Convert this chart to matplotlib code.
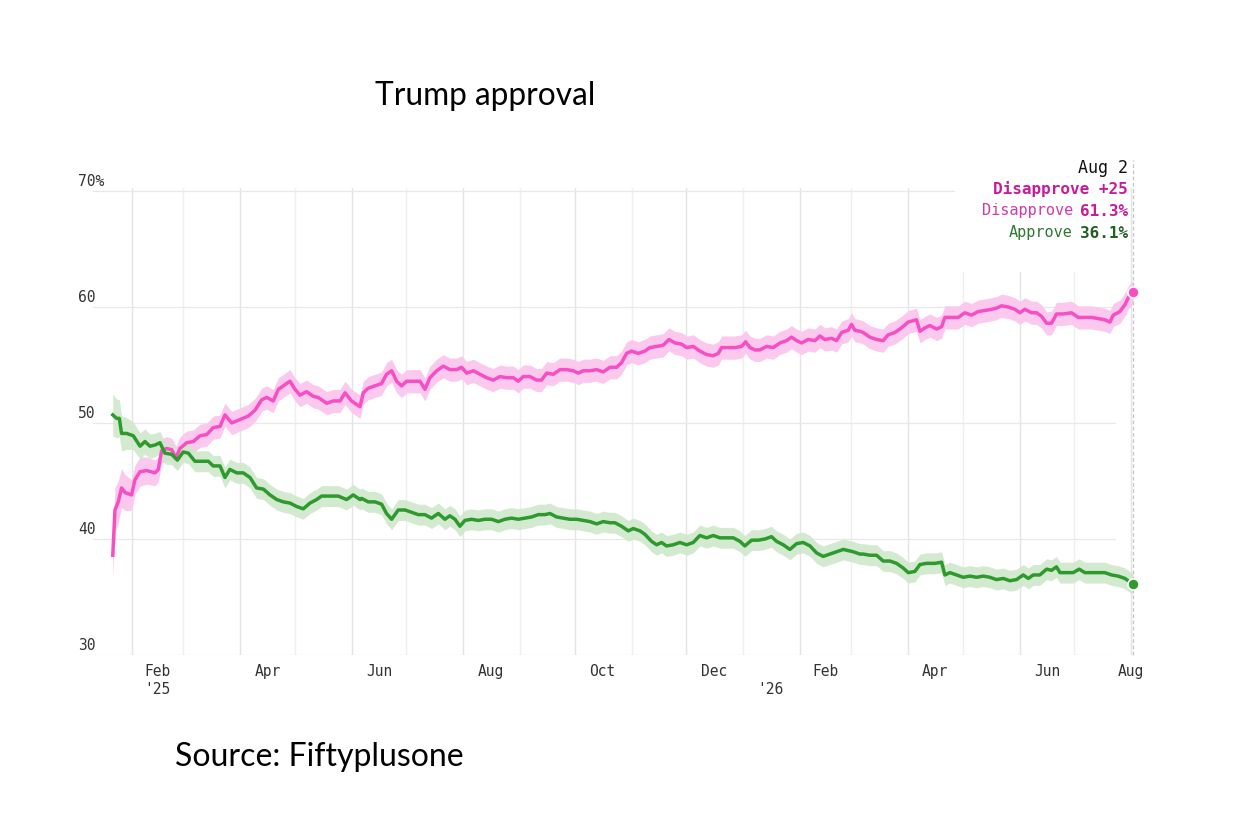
import numpy as np
import matplotlib
matplotlib.use("Agg")
import matplotlib.pyplot as plt
import matplotlib.dates as mdates
from matplotlib.patches import Rectangle

# ---------------- data (days counted from 2025-02-01) ----------------
BASE_DATE = "2025-02-01"

disapprove_days = [-10.5, -9.3, -7.5, -5.7, -3.8, -0.2, 1.6, 4.4, 8.0, 12.6, 14.4, 16.2, 18.9, 21.7, 24.0,
                   26.2, 29.9, 33.5, 37.2, 40.8, 44.4, 48.1, 50.8, 54.5, 59.0, 63.6, 67.2, 70.9, 73.6, 77.2,
                   80.0, 83.6, 86.3, 89.1, 91.8, 95.4, 99.1, 101.8, 106.4, 110.0, 113.7, 116.4, 120.0, 124.6,
                   126.4, 129.1, 132.8, 136.4, 139.1, 141.9, 144.6, 147.3, 150.1, 153.7, 157.4, 160.1, 162.8,
                   166.5, 170.1, 173.7, 177.4, 180.1, 182.9, 186.5, 190.1, 193.8, 197.4, 201.1, 204.7, 208.4,
                   211.1, 213.8, 217.5, 221.1, 223.8, 226.6, 230.2, 233.9, 237.5, 241.1, 243.9, 246.6, 250.2,
                   253.9, 257.5, 261.2, 264.8, 267.5, 270.3, 273.0, 276.6, 280.3, 283.0, 286.7, 290.3, 293.4,
                   296.7, 300.3, 303.1, 306.7, 310.3, 314.0, 317.6, 320.4, 322.2, 325.8, 329.5, 333.1, 335.3,
                   337.7, 340.4, 343.1, 346.8, 350.4, 354.1, 357.7, 360.4, 363.2, 365.9, 369.5, 373.2, 375.9,
                   378.6, 382.3, 385.0, 387.8, 391.4, 393.2, 395.0, 397.8, 399.6, 403.2, 406.9, 410.5, 413.2,
                   416.9, 420.5, 424.2, 428.7, 430.6, 433.3, 436.0, 439.7, 442.4, 444.2, 447.9, 451.5, 455.1,
                   458.8, 462.4, 466.1, 469.7, 472.4, 475.2, 478.8, 482.5, 485.2, 487.9, 491.6, 494.3, 497.0,
                   499.8, 502.5, 505.2, 508.9, 513.4, 517.1, 520.7, 524.4, 528.0, 531.6, 534.4, 536.2, 539.8,
                   542.6, 544.4, 547.0]
disapprove = [38.6, 42.5, 43.2, 44.4, 44.0, 43.8, 45.1, 45.8, 45.9, 45.7, 46.0, 47.6, 47.8, 47.7, 47.0,
              47.8, 48.3, 48.4, 48.9, 49.0, 49.6, 49.7, 50.7, 50.0, 50.3, 50.6, 51.1, 52.0, 52.2, 51.9,
              52.9, 53.3, 53.6, 52.9, 52.4, 52.7, 52.3, 52.2, 51.7, 51.9, 51.9, 52.6, 51.9, 51.4,
              52.6, 53.0, 53.2, 53.4, 54.2, 54.5, 53.6, 53.2, 53.6, 53.6, 53.6, 52.9, 53.9,
              54.5, 54.9, 54.6, 54.6, 54.8, 54.3, 54.5, 54.2, 53.9, 53.7, 54.0, 53.9, 53.9,
              53.6, 54.0, 54.0, 53.7, 53.7, 54.3, 54.2, 54.6, 54.6, 54.5, 54.3, 54.5, 54.5,
              54.6, 54.4, 54.8, 54.8, 55.2, 56.0, 56.2, 56.0, 56.2, 56.5, 56.6, 56.7, 57.2,
              56.9, 56.8, 56.5, 56.6, 56.2, 55.9, 55.8, 56.0, 56.5, 56.5, 56.5, 56.6, 57.0,
              56.5, 56.3, 56.3, 56.6, 56.5, 56.9, 57.1, 57.4, 57.1, 56.9, 57.2, 57.1, 57.5,
              57.2, 57.3, 57.1, 57.8, 58.0, 58.5, 58.0, 57.9, 57.8, 57.4, 57.2, 57.1, 57.6,
              57.8, 58.2, 58.7, 58.9, 57.9, 58.2, 58.4, 58.1, 58.3, 59.1, 59.1, 59.1, 59.5,
              59.3, 59.6, 59.7, 59.8, 59.9, 60.1, 60.0, 59.8, 59.5, 59.8, 59.5, 59.5, 59.2,
              58.6, 58.6, 59.4, 59.4, 59.5, 59.1, 59.1, 59.1, 59.0, 58.9, 58.7, 59.3, 59.6,
              60.2, 60.8, 61.3]

approve_days = [-10.5, -8.4, -6.9, -5.7, -2.9, 0.7, 4.4, 7.1, 9.8, 12.6, 15.3, 18.0, 21.7, 24.8, 28.0,
                30.8, 34.4, 38.1, 41.7, 44.4, 48.1, 50.8, 53.5, 57.2, 60.8, 64.5, 68.1, 71.8, 75.4, 79.1,
                82.7, 86.3, 90.0, 93.6, 97.3, 100.9, 103.6, 108.2, 112.7, 117.3, 120.9, 124.6,
                125.5, 129.1, 132.8, 136.4, 139.1, 141.9, 145.5, 149.2, 152.8, 156.4, 160.1, 163.7, 167.4,
                171.0, 173.7, 176.5, 179.2, 181.9, 185.6, 189.2, 192.9, 196.5, 200.2, 203.8, 207.4, 211.1,
                214.7, 218.4, 222.0, 225.7, 228.4, 232.0, 235.7, 239.3, 243.0, 246.6, 250.3, 253.9, 257.5,
                261.2, 263.9, 267.5, 271.2, 273.9, 277.6, 280.3, 283.9, 286.7, 289.4, 292.1, 295.8, 299.4,
                303.1, 306.7, 310.3, 314.0, 317.6, 321.3, 324.9, 328.6, 332.2, 334.9, 338.6, 342.2, 345.9,
                349.5, 352.2, 355.9, 359.5, 363.2, 366.8, 370.5, 374.1, 377.7, 381.4, 385.0, 388.7, 391.4,
                394.1, 397.8, 399.6, 403.2, 406.9, 410.5, 414.2, 417.8, 421.4, 424.2, 427.8, 430.6, 434.2,
                438.8, 442.4, 444.2, 447.0, 450.6, 454.2, 457.9, 461.5, 465.2, 468.8, 472.4, 476.1, 479.7,
                483.4, 487.0, 489.8, 492.5, 496.1, 499.8, 502.5, 505.2, 507.1, 510.7, 514.3, 517.6, 520.7,
                524.4, 528.0, 531.6, 535.3, 538.9, 542.6, 547.0]
approve = [50.7, 50.4, 50.4, 49.1, 49.1, 48.9, 48.0, 48.4, 48.0, 48.1, 48.3, 47.4, 47.3, 46.8, 47.5,
           47.4, 46.7, 46.7, 46.7, 46.3, 46.3, 45.3, 46.0, 45.7, 45.7, 45.3, 44.4, 44.3, 43.8, 43.4,
           43.2, 43.1, 42.8, 42.6, 43.1, 43.4, 43.7, 43.7, 43.7, 43.4, 43.8, 43.4,
           43.5, 43.2, 43.2, 43.0, 42.2, 41.7, 42.5, 42.5, 42.3, 42.1, 42.1, 41.8, 42.2,
           41.7, 42.0, 41.7, 41.1, 41.6, 41.7, 41.6, 41.7, 41.7, 41.5, 41.7, 41.8, 41.7,
           41.8, 41.9, 42.1, 42.1, 42.2, 41.9, 41.8, 41.7, 41.7, 41.6, 41.5, 41.3, 41.5,
           41.4, 41.4, 41.1, 40.7, 40.9, 40.7, 40.4, 39.8, 39.5, 39.7, 39.4, 39.5, 39.7,
           39.5, 39.7, 40.3, 40.1, 40.3, 40.1, 40.1, 40.1, 39.8, 39.4, 39.9, 39.9, 40.0,
           40.2, 39.8, 39.5, 39.1, 39.6, 39.7, 39.4, 38.8, 38.5, 38.7, 38.9, 39.1, 39.0,
           38.9, 38.7, 38.7, 38.6, 38.6, 38.1, 38.1, 37.9, 37.5, 37.1, 37.2, 37.8, 37.9,
           37.9, 38.0, 36.9, 37.1, 36.9, 36.7, 36.8, 36.7, 36.8, 36.7, 36.5, 36.6, 36.4,
           36.5, 36.9, 36.6, 36.9, 36.9, 37.4, 37.3, 37.6, 37.1, 37.1, 37.1, 37.4, 37.1,
           37.1, 37.1, 37.1, 36.9, 36.8, 36.6, 36.1]

# uncertainty band half-widths (points) at a few days
band_days = [-10.5, 0, 20, 547]
disapprove_band = [2.0, 1.3, 1.0, 1.0]
approve_band = [1.8, 1.2, 0.9, 0.9]

y_ticks = [30, 40, 50, 60, 70]
y_tick_labels = ["30", "40", "50", "60", "70%"]

x_label_dates = ["2025-02-15", "2025-04-16", "2025-06-16", "2025-08-16", "2025-10-16", "2025-12-16",
                 "2026-02-15", "2026-04-16", "2026-06-16", "2026-08-01"]
x_labels = ["Feb", "Apr", "Jun", "Aug", "Oct", "Dec", "Feb", "Apr", "Jun", "Aug"]
year_label_dates = ["2025-02-15", "2026-01-16"]
year_labels = ["'25", "'26"]

month_starts = ["2025-02-01", "2025-03-01", "2025-04-01", "2025-05-01", "2025-06-01", "2025-07-01",
                "2025-08-01", "2025-09-01", "2025-10-01", "2025-11-01", "2025-12-01", "2026-01-01",
                "2026-02-01", "2026-03-01", "2026-04-01", "2026-05-01", "2026-06-01", "2026-07-01",
                "2026-08-01"]

last_date = "2026-08-02"
title = "Trump approval"
source = "Source: Fiftyplusone"

# ---------------- styling ----------------
PINK = "#f84ec4"
PINK_BAND = "#fcc9ee"
GREEN = "#2e9a2e"
GREEN_BAND = "#cfe8cb"
MONO = ["DejaVu Sans Mono"]
SANS = ["Lato", "DejaVu Sans"]

base = mdates.date2num(np.datetime64(BASE_DATE))
d_x = base + np.array(disapprove_days)
a_x = base + np.array(approve_days)
d_y = np.array(disapprove)
a_y = np.array(approve)
d_hw = np.interp(disapprove_days, band_days, disapprove_band)
a_hw = np.interp(approve_days, band_days, approve_band)

fig = plt.figure(figsize=(12.44, 8.18), dpi=100)
ax = fig.add_axes([93 / 1244, 1 - 655 / 818, (1135 - 93) / 1244, (655 - 187.5) / 818])
ax.set_xlim(base - 21.3, base + 548.1)
ax.set_ylim(30, 70.3)
for s in ax.spines.values():
    s.set_visible(False)
ax.set_xticks([])
ax.set_yticks([])

# grid
for i, m in enumerate(month_starts):
    xm = mdates.date2num(np.datetime64(m))
    ax.axvline(xm, color="#e4e4e4" if i % 2 == 0 else "#efefef", lw=1.0, zorder=0)
for yv in y_ticks:
    ax.axhline(yv, xmin=0, xmax=0.981, color="#e8e8e8", lw=0.9, zorder=0)

# white box behind the annotation
ax.add_patch(Rectangle((955 / 1244, 1 - 272 / 818), (1128 - 955) / 1244, (272 - 150) / 818,
                       transform=fig.transFigure, facecolor="white", edgecolor="none", zorder=1))

# bands and lines
ax.fill_between(d_x, d_y - d_hw, d_y + d_hw, color=PINK_BAND, lw=0, zorder=2)
ax.fill_between(a_x, a_y - a_hw, a_y + a_hw, color=GREEN_BAND, lw=0, alpha=0.9, zorder=2)
ax.plot(d_x, d_y, color=PINK, lw=2.5, zorder=3, solid_joinstyle="round")
ax.plot(a_x, a_y, color=GREEN, lw=2.5, zorder=3, solid_joinstyle="round")

xl = mdates.date2num(np.datetime64(last_date))
ax.plot([xl, xl], [30, 72.7], color="#c4c4c4", lw=0.9, ls=(0, (3, 2)), clip_on=False, zorder=2)
ax.plot([xl], [d_y[-1]], "o", color=PINK, ms=8, mec="white", mew=1.2, zorder=5, clip_on=False)
ax.plot([xl], [a_y[-1]], "o", color=GREEN, ms=8, mec="white", mew=1.2, zorder=5, clip_on=False)

# y labels
for yv, lab in zip(y_ticks, y_tick_labels):
    ax.text((78 - 93) / 1042, yv + 0.15, lab, transform=ax.get_yaxis_transform(),
            ha="left", va="bottom", fontsize=10.5, family=MONO, color="#333333")

# x labels
for dstr, lab in zip(x_label_dates, x_labels):
    ax.text(mdates.date2num(np.datetime64(dstr)), 29.2, lab, ha="center", va="top",
            fontsize=10.5, family=MONO, color="#333333", clip_on=False)
for dstr, lab in zip(year_label_dates, year_labels):
    ax.text(mdates.date2num(np.datetime64(dstr)), 27.7, lab, ha="center", va="top",
            fontsize=10.5, family=MONO, color="#333333", clip_on=False)

# annotation
margin = round(d_y[-1] - a_y[-1])
tx = 1128 / 1244
fig.text(tx, 1 - 168 / 818, "Aug 2", ha="right", va="center", fontsize=12, family=MONO, color="#111111")
fig.text(tx, 1 - 189 / 818, f"Disapprove +{margin}", ha="right", va="center", fontsize=11.5,
         family=MONO, weight="bold", color="#c81a9c")
t1 = fig.text(tx, 1 - 211 / 818, f"{d_y[-1]:.1f}%", ha="right", va="center", fontsize=11.5,
              family=MONO, weight="bold", color="#c81a9c")
fig.canvas.draw()
r = fig.canvas.get_renderer()
w1 = t1.get_window_extent(r).width
fig.text(tx - (w1 + 7) / 1244, 1 - 211 / 818, "Disapprove", ha="right", va="center", fontsize=11,
         family=MONO, color="#d23aa8")
t2 = fig.text(tx, 1 - 233 / 818, f"{a_y[-1]:.1f}%", ha="right", va="center", fontsize=11.5,
              family=MONO, weight="bold", color="#235f23")
w2 = t2.get_window_extent(r).width
fig.text(tx - (w2 + 7) / 1244, 1 - 233 / 818, "Approve", ha="right", va="center", fontsize=11,
         family=MONO, color="#2f7a2f")

# title and source
fig.text(375 / 1244, 1 - 96 / 818, title, ha="left", va="center", fontsize=22.8, family=SANS, color="#000000")
fig.text(175 / 1244, 1 - 757 / 818, source, ha="left", va="center", fontsize=23, family=SANS, color="#000000")

fig.savefig("out.png", dpi=100, facecolor="white")
